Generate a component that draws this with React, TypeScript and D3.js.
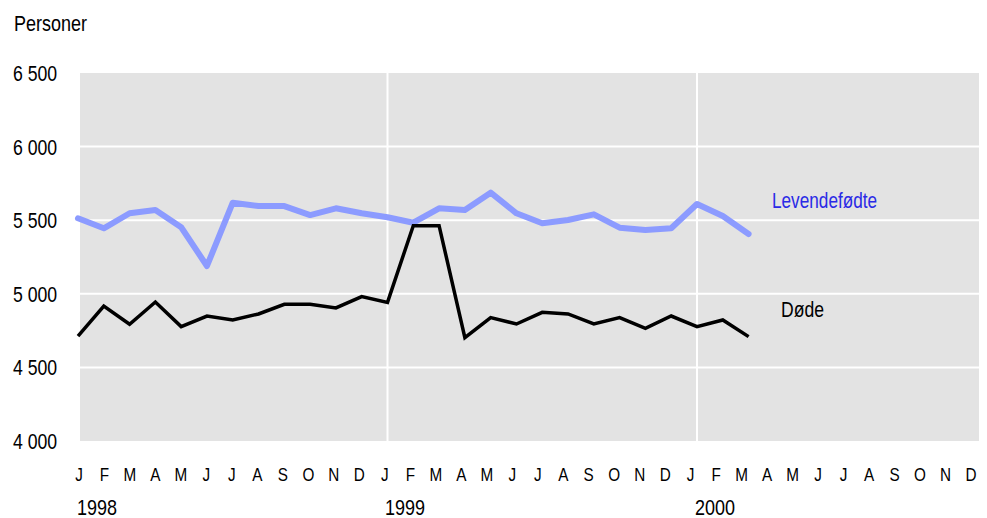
import React from "react";
import * as d3 from "d3";

const months = ["J","F","M","A","M","J","J","A","S","O","N","D"];
const years = ["1998", "1999", "2000"];
const yTicks = [4000, 4500, 5000, 5500, 6000, 6500];
const levendefodte = [5513,5445,5547,5569,5452,5189,5619,5596,5596,5535,5581,5547,5520,5483,5581,5569,5687,5547,5479,5501,5540,5449,5433,5445,5610,5529,5406];
const dode = [4713,4917,4793,4944,4777,4849,4822,4863,4929,4929,4904,4981,4942,5463,5463,4702,4838,4795,4874,4863,4795,4838,4766,4849,4777,4822,4709];

const W = 987, H = 518;
const FONT = "'Liberation Sans', Arial, sans-serif";

function T({ x, y, sx = 0.88, sy = 1.12, size = 19, fill = "#000", anchor = "start", children }: any) {
  return (
    <text transform={`translate(${x},${y}) scale(${sx},${sy})`} fontSize={size} fill={fill}
      textAnchor={anchor} fontFamily={FONT}>{children}</text>
  );
}

export default function App() {
  const plotL = 80, plotR = 979, plotT = 73, plotB = 441;
  const x = d3.scaleLinear().domain([0, 24]).range([78, 697]);
  const xl = d3.scaleLinear().domain([0, 35]).range([79, 971]);
  const y = d3.scaleLinear().domain([4000, 6500]).range([plotB, plotT]);
  const line = d3.line<number>().x((_, i) => x(i)).y(d => y(d));
  const allMonths = years.flatMap(() => months);
  const fmt = (v: number) => d3.format(",")(v).replace(",", " ");
  return (
    <svg width={W} height={H} style={{ position: "absolute", left: 0, top: 0, background: "#fff" }}>
      <rect x={plotL} y={plotT} width={plotR - plotL} height={plotB - plotT} fill="#e3e3e3" />
      {yTicks.slice(1, -1).map(t => (
        <line key={t} x1={plotL} x2={plotR} y1={y(t)} y2={y(t)} stroke="#fff" strokeWidth={2} />
      ))}
      {[12, 24].map(i => (
        <line key={i} x1={x(i)} x2={x(i)} y1={plotT} y2={plotB} stroke="#fff" strokeWidth={2} />
      ))}
      {yTicks.map(t => (
        <T key={t} x={13} y={y(t) + 8} size={19} sx={0.93}>{fmt(t)}</T>
      ))}
      <T x={14} y={31} size={20} sx={0.9}>Personer</T>
      <path d={line(levendefodte) || ""} fill="none" stroke="#8c9bff" strokeWidth={6} strokeLinejoin="round" strokeLinecap="round" />
      <path d={line(dode) || ""} fill="none" stroke="#000" strokeWidth={3.5} strokeLinejoin="miter" />
      <T x={772} y={208} size={20} sx={0.86} fill="#2a2ae6">Levendefødte</T>
      <T x={781} y={317} size={20} sx={0.88}>Døde</T>
      {allMonths.map((m, i) => (
        <T key={i} x={xl(i)} y={481} size={18} sx={0.85} sy={1.05} anchor="middle">{m}</T>
      ))}
      {years.map((yr, k) => (
        <T key={yr} x={[77, 385, 695][k]} y={515} size={20} sx={0.9}>{yr}</T>
      ))}
    </svg>
  );
}
